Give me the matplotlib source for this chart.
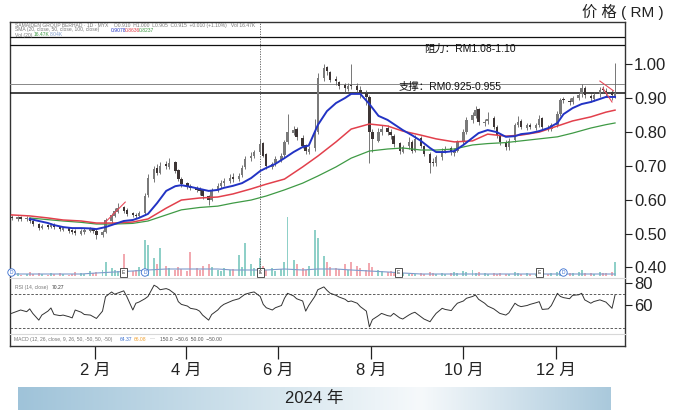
import matplotlib
matplotlib.use("Agg")
import numpy as np
import pandas as pd
import matplotlib.pyplot as plt
import matplotlib.dates as mdates
from matplotlib.colors import LinearSegmentedColormap

plt.rcParams['font.family'] = ['Liberation Sans', 'Noto Sans CJK SC']

# ---- data ----
close = [0.546,0.548,0.544,0.546,0.538,0.528,0.516,0.522,0.520,0.525,
         0.518,0.512,0.515,0.508,0.505,0.502,0.507,0.510,0.512,0.508,
         0.495,0.505,0.540,0.555,0.568,0.575,0.568,0.558,0.555,0.552,
         0.560,0.610,0.665,0.690,0.680,0.700,0.700,0.710,0.685,0.660,
         0.645,0.640,0.635,0.630,0.625,0.610,0.600,0.630,0.640,0.650,
         0.655,0.665,0.660,0.670,0.695,0.720,0.730,0.740,0.765,0.730,
         0.700,0.705,0.720,0.730,0.770,0.800,0.805,0.785,0.760,0.745,
         0.750,0.800,0.960,0.990,0.980,0.955,0.950,0.935,0.930,0.935,
         0.935,0.925,0.915,0.905,0.800,0.780,0.800,0.810,0.800,0.790,
         0.765,0.745,0.755,0.770,0.745,0.780,0.760,0.735,0.710,0.710,
         0.725,0.745,0.750,0.740,0.745,0.770,0.800,0.835,0.850,0.865,
         0.830,0.830,0.840,0.815,0.790,0.770,0.755,0.775,0.820,0.830,
         0.815,0.820,0.815,0.820,0.840,0.815,0.810,0.820,0.855,0.895,
         0.895,0.890,0.900,0.910,0.930,0.910,0.900,0.910,0.925,0.925,
         0.920,0.910,0.915]
open_ = [0.550,0.544,0.548,0.542,0.546,0.536,0.528,0.516,0.524,0.518,
         0.525,0.518,0.510,0.515,0.510,0.506,0.500,0.505,0.508,0.512,
         0.508,0.495,0.505,0.538,0.552,0.565,0.578,0.570,0.560,0.556,
         0.552,0.560,0.615,0.660,0.695,0.680,0.705,0.698,0.712,0.688,
         0.662,0.648,0.642,0.636,0.632,0.628,0.612,0.600,0.628,0.642,
         0.648,0.655,0.668,0.662,0.672,0.698,0.722,0.728,0.742,0.768,
         0.735,0.698,0.708,0.718,0.732,0.772,0.798,0.808,0.782,0.762,
         0.742,0.752,0.800,0.960,0.992,0.978,0.958,0.948,0.938,0.928,
         0.940,0.935,0.925,0.915,0.905,0.800,0.775,0.800,0.812,0.800,
         0.788,0.768,0.742,0.758,0.772,0.745,0.782,0.758,0.735,0.712,
         0.708,0.725,0.745,0.752,0.738,0.745,0.772,0.800,0.835,0.848,
         0.868,0.828,0.832,0.842,0.815,0.788,0.772,0.755,0.778,0.822,
         0.832,0.812,0.822,0.812,0.822,0.842,0.812,0.808,0.822,0.855,
         0.898,0.892,0.888,0.902,0.912,0.930,0.908,0.898,0.912,0.928,
         0.922,0.918,0.908]
high = [0.556,0.553,0.552,0.551,0.550,0.540,0.532,0.527,0.528,0.530,
        0.530,0.522,0.520,0.518,0.514,0.512,0.512,0.516,0.518,0.516,
        0.512,0.510,0.545,0.562,0.575,0.590,0.582,0.575,0.565,0.562,
        0.568,0.620,0.675,0.700,0.705,0.712,0.715,0.722,0.715,0.690,
        0.668,0.652,0.645,0.640,0.638,0.632,0.615,0.636,0.648,0.658,
        0.665,0.675,0.678,0.680,0.702,0.728,0.740,0.748,0.780,0.772,
        0.738,0.712,0.728,0.738,0.778,0.855,0.818,0.815,0.790,0.765,
        0.758,0.840,0.975,1.000,0.995,0.982,0.965,0.952,0.945,0.945,
        1.000,0.945,0.935,0.925,0.910,0.810,0.812,0.822,0.820,0.808,
        0.795,0.772,0.762,0.785,0.778,0.790,0.788,0.762,0.740,0.722,
        0.732,0.752,0.758,0.758,0.752,0.778,0.810,0.845,0.860,0.878,
        0.872,0.840,0.858,0.848,0.820,0.795,0.778,0.782,0.828,0.848,
        0.838,0.828,0.826,0.828,0.850,0.846,0.820,0.828,0.862,0.902,
        0.905,0.900,0.908,0.918,0.942,0.935,0.912,0.918,0.932,0.935,
        0.930,0.925,1.005]
low = [0.540,0.538,0.538,0.536,0.532,0.522,0.510,0.512,0.514,0.515,
       0.512,0.506,0.506,0.502,0.500,0.496,0.495,0.500,0.504,0.502,
       0.485,0.490,0.502,0.532,0.548,0.560,0.562,0.552,0.550,0.546,
       0.548,0.555,0.608,0.652,0.672,0.675,0.690,0.692,0.680,0.655,
       0.638,0.632,0.628,0.622,0.615,0.602,0.585,0.596,0.622,0.636,
       0.642,0.650,0.652,0.656,0.668,0.692,0.715,0.722,0.735,0.725,
       0.692,0.690,0.700,0.712,0.726,0.765,0.790,0.778,0.752,0.736,
       0.735,0.745,0.795,0.950,0.970,0.948,0.940,0.928,0.920,0.922,
       0.928,0.918,0.900,0.880,0.710,0.740,0.770,0.792,0.792,0.780,
       0.755,0.735,0.738,0.750,0.738,0.740,0.752,0.728,0.680,0.700,
       0.700,0.718,0.738,0.732,0.730,0.740,0.765,0.795,0.828,0.842,
       0.822,0.818,0.825,0.808,0.782,0.762,0.748,0.748,0.772,0.815,
       0.808,0.806,0.808,0.806,0.815,0.808,0.802,0.802,0.815,0.848,
       0.885,0.880,0.882,0.895,0.905,0.900,0.890,0.892,0.905,0.915,
       0.905,0.895,0.900]
volume = [2,3,1,2,4,2,3,2,1,3,2,3,2,1,2,4,3,2,5,3,
          4,6,14,8,6,5,22,7,5,6,
          9,36,31,18,12,28,10,8,6,9,
          7,5,24,8,6,10,12,9,6,5,
          8,6,7,21,9,33,12,8,18,10,
          6,8,5,7,14,59,16,12,8,6,
          10,46,38,20,14,9,8,7,12,6,
          14,10,8,6,13,9,6,5,4,5,
          3,4,3,2,3,2,3,2,4,3,
          2,3,2,3,4,3,5,4,6,3,
          4,3,2,3,2,3,2,2,4,3,
          2,3,2,2,3,2,2,3,4,5,
          4,3,3,4,6,3,3,2,4,3,
          3,4,14]
rsi = [53,55,56,54.5,57,53,47,51.5,55,57.8,
       52,51,51.5,50,49,56,54,52,51.5,50,
       48.5,55,67.8,72,70,71,73,68,56,62,
       63,66,68,78,76.5,74,75,74,70,63.4,
       61,59.5,57.5,56.5,55,51.5,47,52,56,59,
       61,63.4,64.5,66,68,70,71.5,72,68,61,
       58,56,58,60,66.4,70.8,68.5,66,64,55,
       60,68,74,76.5,73.5,71,69,67.5,65.5,63.4,
       64,62,59,55,41,47.5,51,53,51,50.5,
       53,49,48,51.5,53,54,50,48,45.6,49.5,
       53,57.5,56.5,55.5,59,62,64,66.4,68,69.3,
       65.5,62,59.5,57,55,53,51.5,53.5,62,60,
       59,60,61,62.5,63.4,56.5,57,60,70.8,68,
       67,66,69,69.5,70.8,65,62,63.5,65,64,
       63,57.5,69.3]

nan = np.nan
# short moving average, sampled every 2nd candle
ma_short_idx = list(range(0, 143, 2))
ma_short = [nan,nan,0.543,0.537,0.531,0.525,0.519,0.516,0.516,0.515,
            0.513,0.519,0.528,0.537,0.540,0.546,0.558,0.590,0.626,0.640,
            0.643,0.638,0.632,0.626,0.629,0.635,0.641,0.649,0.664,0.685,
            0.694,0.706,0.723,0.741,0.756,0.760,0.821,0.862,0.886,0.901,
            0.913,0.913,0.883,0.848,0.836,0.824,0.806,0.791,0.774,0.753,
            0.741,0.741,0.744,0.762,0.783,0.797,0.806,0.800,0.786,0.788,
            0.794,0.797,0.803,0.812,0.827,0.853,0.871,0.883,0.889,0.898,
            0.904,0.904]
# mid / long moving averages, sampled every 4th candle (+ last)
ma_idx = list(range(0, 143, 4)) + [142]
ma_mid = [0.555,0.552,0.546,0.540,0.537,0.531,0.531,0.534,0.543,0.575,
          0.599,0.605,0.608,0.617,0.632,0.646,0.661,0.697,0.729,0.771,
          0.809,0.824,0.818,0.803,0.791,0.780,0.771,0.774,0.794,0.788,
          0.791,0.800,0.818,0.833,0.845,0.859,0.865]
ma_long = [nan,0.546,0.541,0.537,0.533,0.528,0.528,0.530,0.537,0.555,
           0.570,0.577,0.581,0.590,0.599,0.611,0.629,0.649,0.670,0.697,
           0.723,0.744,0.750,0.753,0.747,0.747,0.750,0.762,0.766,0.769,
           0.774,0.780,0.786,0.797,0.812,0.822,0.827]
vol_ma = [2,2,2,2,2,3,4,5,6,7,7,7,7,6,6,6,7,6,7,7,6,5,4,3,
          2,2,2,2,2,2,2,2,2,2,2,2,2]

res_levels = [1.081, 1.058]
sup_levels = [0.942, 0.916]
trend1_dates = ['2024-02-08', '2024-02-21']
trend1_px = [0.534, 0.593]
wedge_up_dates = ['2024-12-30', '2025-01-08']
wedge_up_px = [0.951, 0.922]
wedge_lo_dates = ['2025-01-01', '2025-01-07']
wedge_lo_px = [0.930, 0.889]
d_marks = ['2023-12-08', '2024-03-05', '2024-12-06']
e_marks = ['2024-02-20', '2024-05-20', '2024-08-19', '2024-11-20']
month_ticks = ['2024-02-01', '2024-04-01', '2024-06-01', '2024-08-01', '2024-10-01', '2024-12-01']
month_labels = ['2 月', '4 月', '6 月', '8 月', '10 月', '12 月']
price_ticks = [0.40, 0.50, 0.60, 0.70, 0.80, 0.90, 1.00]

dates = pd.date_range('2023-12-08', periods=len(close), freq='2B')
dn = mdates.date2num(dates)

# ---- layout in pixels ----
W, H = 690, 411
def box(x0, y0, x1, y1):
    return [x0 / W, 1 - y1 / H, (x1 - x0) / W, (y1 - y0) / H]

x_start = mdates.date2num(pd.Timestamp('2023-12-07'))
xlim = (x_start, x_start + 615 / 1.5164)

fig = plt.figure(figsize=(6.9, 4.11), dpi=100)

ax_f = fig.add_axes(box(10, 22, 625, 346))
ax_f.set_xlim(xlim)
ax_f.set_yticks([])
for s in ax_f.spines.values():
    s.set_linewidth(1.0)
    s.set_color('#333333')
ax_f.set_xticks(mdates.date2num(pd.to_datetime(month_ticks)))
ax_f.set_xticklabels(month_labels)
ax_f.tick_params(axis='x', direction='out', length=9, width=0.9, pad=3,
                 labelsize=12, colors='#222222')

def overlay(b):
    a = fig.add_axes(b)
    a.set_facecolor('none')
    a.set_xlim(xlim)
    a.set_xticks([])
    for s in a.spines.values():
        s.set_visible(False)
    return a

# volume
ax_v = overlay(box(10, 196, 625, 276))
ax_v.set_ylim(0, 80)
ax_v.set_yticks([])
up = np.array(close) >= np.array(open_)
ax_v.bar(dn, volume, width=1.3, color=np.where(up, '#8fd0c8', '#f2a9b0'), lw=0)
ax_v.plot(dn[ma_idx], vol_ma, color='#7f9ccc', lw=0.8)
for d in d_marks:
    ax_v.text(mdates.date2num(pd.Timestamp(d)), 3.5, 'D', ha='center', va='center',
              fontsize=3.5, color='#3a6fd0',
              bbox=dict(boxstyle='circle,pad=0.25', fc='white', ec='#3a6fd0', lw=0.6))
for d in e_marks:
    ax_v.text(mdates.date2num(pd.Timestamp(d)), 3.5, 'E', ha='center', va='center',
              fontsize=3.5, color='#333333',
              bbox=dict(boxstyle='square,pad=0.35', fc='white', ec='#333333', lw=0.6))

# price
ax_p = overlay(box(10, 22, 625, 276))
ax_p.set_ylim(0.3743, 1.1257)
ax_p.yaxis.tick_right()
ax_p.set_yticks(price_ticks)
ax_p.set_yticklabels([f'{v:.2f}' for v in price_ticks])
ax_p.tick_params(axis='y', direction='out', length=5, width=0.8, pad=1.5,
                 labelsize=12, colors='#222222')

for lv, c, lw in zip(res_levels + sup_levels, ['#111', '#111', '#888', '#111'],
                     [0.9, 0.9, 0.7, 1.1]):
    ax_p.axhline(lv, color=c, lw=lw, zorder=1)
ax_p.vlines(mdates.date2num(pd.Timestamp('2024-05-20')), 0.386, 1.126,
            color='#555555', lw=0.6, linestyles=(0, (1.5, 1.5)), zorder=1)

o = np.array(open_); c_ = np.array(close)
ax_p.vlines(dn, low, high, color='#606060', lw=0.6, zorder=2)
body_lo = np.minimum(o, c_)
body_h = np.maximum(np.abs(c_ - o), 0.002)
ax_p.bar(dn, body_h, bottom=body_lo, width=1.6,
         color=np.where(up, '#7a7a7a', '#3d3535'), lw=0, zorder=3)

ax_p.plot(dn[ma_idx], ma_long, color='#3f9a45', lw=0.9, zorder=4)
ax_p.plot(dn[ma_idx], ma_mid, color='#e2404c', lw=1.1, zorder=4)
ax_p.plot(dn[ma_short_idx], ma_short, color='#2233c4', lw=1.4, zorder=5)

for ds, ps in [(trend1_dates, trend1_px), (wedge_up_dates, wedge_up_px),
               (wedge_lo_dates, wedge_lo_px)]:
    ax_p.plot(mdates.date2num(pd.to_datetime(ds)), ps, color='#e84a5a', lw=0.8, zorder=6)

ax_p.text(mdates.date2num(pd.Timestamp('2024-10-05')), 1.046, '阻力：RM1.08-1.10',
          ha='center', va='center', fontsize=7.5, color='#111111')
ax_p.text(mdates.date2num(pd.Timestamp('2024-09-22')), 0.918, '支撑：RM0.925-0.955',
          ha='center', va='bottom', fontsize=7.5, color='#111111')

# rsi
ax_r = overlay(box(10, 278, 625, 334))
ax_r.set_ylim(34.7, 84.4)
ax_r.yaxis.tick_right()
ax_r.set_yticks([60, 80])
ax_r.set_yticklabels(['60', '80'])
ax_r.tick_params(axis='y', direction='out', length=5, width=0.8, pad=1.5,
                 labelsize=12, colors='#222222')
ax_r.spines['top'].set_visible(True)
ax_r.spines['top'].set_color('#d8d8d8')
ax_r.spines['bottom'].set_visible(True)
ax_r.spines['bottom'].set_color('#d8d8d8')
ax_r.axhline(70, color='#444444', lw=0.6, ls=(0, (3, 2)))
ax_r.axhline(40, color='#444444', lw=0.6, ls=(0, (3, 2)))
ax_r.plot(dn, rsi, color='#333333', lw=0.7)

# tiny legend texts
def ftext(x, y, s, **kw):
    fig.text(x / W, 1 - y / H, s, va='center', **kw)

small = dict(fontsize=3.6, color='#777777')
ftext(15, 25, 'SAMAIDEN GROUP BERHAD · 1D · MYX    O0.910  H1.000  L0.905  C0.915  +0.010 (+1.10%)   Vol 16.47K', **small)
ftext(15, 30, 'SMA (20, close, 50, close, 100, close)', **small)
ftext(111, 30, '0.9078', fontsize=3.6, color='#2233c4')
ftext(125, 30, '0.8636', fontsize=3.6, color='#e2404c')
ftext(139, 30, '0.8237', fontsize=3.6, color='#3f9a45')
ftext(15, 35, 'Vol (20)', **small)
ftext(34, 35, '16.47K', fontsize=3.6, color='#3f9a45')
ftext(50, 35, '8.04K', fontsize=3.6, color='#7f9ccc')
ftext(15, 287, 'RSI (14, close)', **small)
ftext(52, 287, '70.27', fontsize=3.6, color='#333333')
ftext(14, 339, 'MACD (12, 26, close, 9, 26, 50, -50, 50, -50)', **small)
ftext(120, 339, '64.37', fontsize=3.6, color='#3a6fd0')
ftext(134, 339, '66.08', fontsize=3.6, color='#f0a030')
ftext(150, 339, '—', fontsize=3.6, color='#bbbbbb')
ftext(160, 339, '150.0  −50.6  50.00  −50.00', fontsize=3.6, color='#555555')

fig.text(623 / W, 1 - 12 / H, '价 格 ( RM )', ha='center', va='center',
         fontsize=11, color='#222222')

# bottom year band
ax_b = fig.add_axes(box(18, 387, 611, 410))
cmap = LinearSegmentedColormap.from_list(
    'band', [(0, '#9fc3d9'), (0.45, '#d8e7ef'), (0.68, '#f6f9fb'), (1, '#aac9dc')])
ax_b.imshow(np.linspace(0, 1, 256)[None, :], aspect='auto', cmap=cmap,
            extent=(0, 1, 0, 1))
ax_b.axis('off')
ax_b.text(0.5, 0.5, '2024 年', ha='center', va='center', fontsize=12,
          color='#222222', transform=ax_b.transAxes)

fig.savefig('out.png', dpi=100)
